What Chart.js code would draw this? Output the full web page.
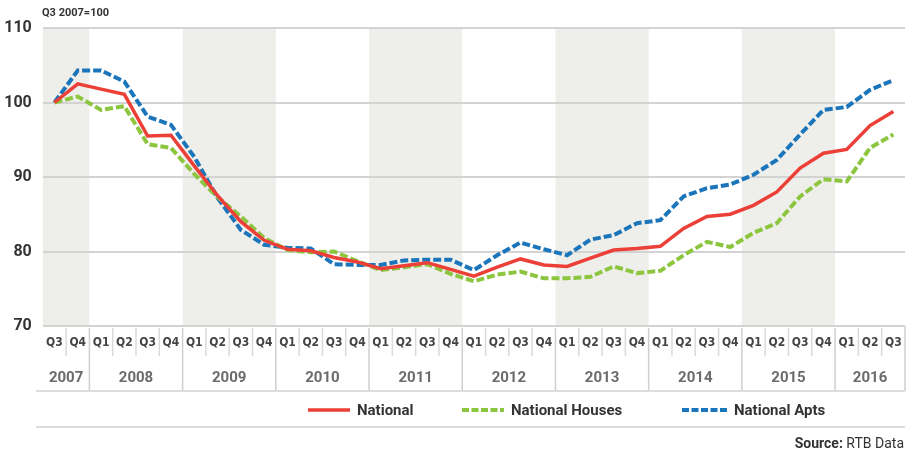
<!DOCTYPE html>
<html>
<head>
<meta charset="utf-8">
<title>RTB rent index Q3 2007=100</title>
<script src="https://cdn.jsdelivr.net/npm/chart.js@4.4.1/dist/chart.umd.min.js"></script>
<style>
    body { margin: 0; background: #fff; font-family: Roboto, "Noto Sans", sans-serif; }
    #wrap { position: relative; width: 913px; height: 454px; }
    #chart { position: absolute; left: 0; top: 0; }
    .note { position: absolute; left: 42px; top: 6px; font-size: 11px; font-weight: 700; color: #333; }
    .legend { position: absolute; top: 401px; font-size: 15px; font-weight: 700; color: #333; display: flex; align-items: center; }
    .legend svg { margin-right: 7px; }
    .source { position: absolute; right: 9px; top: 435px; font-size: 14px; color: #333; }
    .source b { font-weight: 700; }
</style>
</head>
<body>
<div id="wrap">
    <canvas id="chart" width="913" height="454"></canvas>
    <div class="note">Q3 2007=100</div>
    <div class="legend" style="left:308px"><svg width="42" height="6"><line x1="0" y1="3" x2="42" y2="3" stroke="#ec3f37" stroke-width="3.5"/></svg>National</div>
    <div class="legend" style="left:462px"><svg width="42" height="6"><line x1="0" y1="3" x2="42" y2="3" stroke="#8cc63e" stroke-width="4" stroke-dasharray="7,2.5"/></svg>National Houses</div>
    <div class="legend" style="left:682px"><svg width="45" height="6"><line x1="0" y1="3" x2="45" y2="3" stroke="#1b75bb" stroke-width="4" stroke-dasharray="7,2.5"/></svg>National Apts</div>
    <div class="source"><b>Source:</b> RTB Data</div>
</div>

<script>
// quarters Q3 2007 .. Q3 2016
const quarterLabels = ['Q3', 'Q4',
    'Q1', 'Q2', 'Q3', 'Q4', 'Q1', 'Q2', 'Q3', 'Q4', 'Q1', 'Q2', 'Q3', 'Q4',
    'Q1', 'Q2', 'Q3', 'Q4', 'Q1', 'Q2', 'Q3', 'Q4', 'Q1', 'Q2', 'Q3', 'Q4',
    'Q1', 'Q2', 'Q3', 'Q4', 'Q1', 'Q2', 'Q3', 'Q4', 'Q1', 'Q2', 'Q3'];
const yearLabels = ['2007', '2008', '2009', '2010', '2011', '2012', '2013', '2014', '2015', '2016'];
const shadedYears = ['2007', '2009', '2011', '2013', '2015'];

const national = [100, 102.5, 101.8, 101.1, 95.5, 95.6, 91.5, 87.5, 84.0, 81.5,
    80.3, 80.1, 79.2, 78.6, 77.7, 78.1, 78.5, 77.6, 76.7, 77.9,
    79.0, 78.2, 78.0, 79.1, 80.2, 80.4, 80.7, 83.1, 84.7, 85.0,
    86.2, 88.0, 91.2, 93.2, 93.7, 96.9, 98.8];
const houses = [100, 100.8, 99.0, 99.5, 94.4, 93.9, 90.4, 87.3, 84.7, 81.8,
    80.2, 79.9, 80.0, 78.7, 77.5, 77.9, 78.3, 77.0, 76.0, 76.9,
    77.3, 76.4, 76.4, 76.6, 78.0, 77.1, 77.4, 79.5, 81.3, 80.6,
    82.5, 83.8, 87.4, 89.7, 89.4, 93.9, 95.7];
const apts = [100, 104.3, 104.3, 102.8, 98.1, 97.0, 92.7, 87.2, 82.9, 80.9,
    80.5, 80.4, 78.3, 78.2, 78.2, 78.8, 78.9, 78.9, 77.5, 79.5,
    81.2, 80.3, 79.5, 81.6, 82.2, 83.8, 84.2, 87.4, 88.5, 89.0,
    90.3, 92.3, 95.7, 99.0, 99.4, 101.7, 103.0];

// split the quarter index range into years (a new year starts at each Q1)
function yearSpans() {
    const spans = [];
    let start = 0;
    for (let i = 1; i <= quarterLabels.length; i++) {
        if (i === quarterLabels.length || quarterLabels[i] === 'Q1') {
            spans.push({ year: yearLabels[spans.length], from: start, to: i - 1 });
            start = i;
        }
    }
    return spans;
}

const axisPlugin = {
    id: 'quarterAxis',
    beforeDraw(chart) {
        const { ctx, chartArea, scales } = chart;
        const x = scales.x;
        const half = (x.getPixelForValue(1) - x.getPixelForValue(0)) / 2;
        ctx.save();
        ctx.fillStyle = '#eeeeea';
        yearSpans().forEach(s => {
            if (!shadedYears.includes(s.year)) return;
            const l = x.getPixelForValue(s.from) - half;
            const r = x.getPixelForValue(s.to) + half;
            ctx.fillRect(l, chartArea.top, r - l, chartArea.bottom - chartArea.top);
        });
        ctx.restore();
    },
    afterDraw(chart) {
        const { ctx, chartArea, scales } = chart;
        const x = scales.x;
        const half = (x.getPixelForValue(1) - x.getPixelForValue(0)) / 2;
        const top = chartArea.bottom;
        ctx.save();

        // quarter labels and short separators
        ctx.font = 'bold 12px "DejaVu Sans Condensed", "DejaVu Sans"';
        ctx.fillStyle = '#444';
        ctx.textAlign = 'center';
        ctx.textBaseline = 'middle';
        quarterLabels.forEach((q, i) => {
            const cx = x.getPixelForValue(i);
            ctx.fillText(q, cx, top + 17);
            if (i > 0 && q !== 'Q1') {
                ctx.strokeStyle = '#dadada';
                ctx.lineWidth = 1.5;
                ctx.beginPath();
                ctx.moveTo(cx - half, top + 2);
                ctx.lineTo(cx - half, top + 30);
                ctx.stroke();
            }
        });

        // year labels and full separators
        ctx.font = 'bold 15px Roboto';
        ctx.fillStyle = '#6b6b6b';
        ctx.strokeStyle = '#cfcfcf';
        ctx.lineWidth = 1.5;
        yearSpans().forEach((s, k) => {
            const l = x.getPixelForValue(s.from) - half;
            const r = x.getPixelForValue(s.to) + half;
            ctx.fillText(s.year, (l + r) / 2, top + 52);
            if (k > 0) {
                ctx.beginPath();
                ctx.moveTo(l, top + 2);
                ctx.lineTo(l, top + 65);
                ctx.stroke();
            }
        });
        ctx.beginPath();
        ctx.moveTo(chartArea.right, top);
        ctx.lineTo(chartArea.right, top + 65);
        ctx.stroke();

        // horizontal rules under the years and under the legend
        ctx.strokeStyle = '#dddddd';
        ctx.lineWidth = 2;
        [top + 65, top + 101].forEach(y => {
            ctx.beginPath();
            ctx.moveTo(36, y);
            ctx.lineTo(chartArea.right, y);
            ctx.stroke();
        });
        ctx.restore();
    }
};

document.addEventListener('DOMContentLoaded', () => {
    const ctx = document.getElementById('chart').getContext('2d');
    new Chart(ctx, {
        type: 'line',
        data: {
            labels: quarterLabels,
            datasets: [
                { label: 'National', data: national, borderColor: '#ec3f37', borderWidth: 3.5 },
                { label: 'National Houses', data: houses, borderColor: '#8cc63e', borderWidth: 4, borderDash: [8, 3] },
                { label: 'National Apts', data: apts, borderColor: '#1b75bb', borderWidth: 4, borderDash: [8, 3] }
            ]
        },
        options: {
            responsive: false,
            animation: false,
            devicePixelRatio: 1,
            layout: { padding: { left: 0, top: 28, right: 8, bottom: 128 } },
            elements: { point: { radius: 0 }, line: { tension: 0, fill: false } },
            plugins: { legend: { display: false }, tooltip: { enabled: false } },
            scales: {
                x: { display: false, offset: true },
                y: {
                    min: 70,
                    max: 110,
                    afterFit: scale => { scale.width = 42.8; },
                    border: { display: false },
                    grid: { color: '#d3d3d3', lineWidth: 2, drawTicks: false },
                    ticks: {
                        stepSize: 10,
                        padding: 11,
                        color: '#333',
                        font: { family: 'Roboto', size: 16, weight: 'bold' }
                    }
                }
            }
        },
        plugins: [axisPlugin]
    });
});
</script>
</body>
</html>
